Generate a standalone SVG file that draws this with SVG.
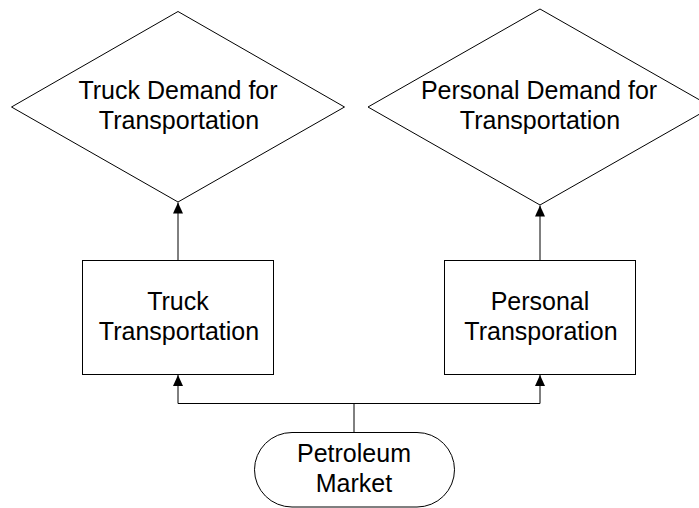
<svg xmlns="http://www.w3.org/2000/svg" width="699" height="508" viewBox="0 0 699 508">
<style>
.shape{fill:#fff;stroke:#000;stroke-width:1}
.conn{fill:none;stroke:#000;stroke-width:1}
text{font-family:"Liberation Sans",Arial,sans-serif;font-size:25px;fill:#000;text-anchor:middle}
</style>
<defs>
<marker id="arr" markerUnits="userSpaceOnUse" markerWidth="12" markerHeight="11" refX="11" refY="5" orient="auto">
<path d="M0,0 L11,5 L0,10 z" fill="#000"/>
</marker>
</defs>
<rect width="699" height="508" fill="#fff"/>
<g id="truck-demand">
<polygon class="shape" points="178,11.5 344.5,107 178,202 11.5,107"/>
<text x="178" y="99">Truck Demand for</text>
<text x="179" y="128.5">Transportation</text>
</g>
<g id="personal-demand">
<polygon class="shape" points="540,9 712,107 540,205 368,107"/>
<text x="539" y="99">Personal Demand for</text>
<text x="540" y="128.5">Transportation</text>
</g>
<g id="truck-transportation">
<rect class="shape" x="82.5" y="260.5" width="191" height="114"/>
<text x="178" y="310">Truck</text>
<text x="179" y="340">Transportation</text>
</g>
<g id="personal-transporation">
<rect class="shape" x="444.5" y="260.5" width="191" height="114"/>
<text x="540" y="310">Personal</text>
<text x="541" y="340">Transporation</text>
</g>
<g id="petroleum-market">
<rect class="shape" x="254.5" y="432.5" width="200" height="74.5" rx="37.5" ry="37.5"/>
<text x="354" y="461.5">Petroleum</text>
<text x="354" y="491.5">Market</text>
</g>
<g id="connectors">
<line class="conn" x1="178" y1="260.5" x2="178" y2="202.5" marker-end="url(#arr)"/>
<line class="conn" x1="540" y1="260.5" x2="540" y2="205.5" marker-end="url(#arr)"/>
<polyline class="conn" points="354,432.5 354,403.5 178,403.5 178,375" marker-end="url(#arr)"/>
<polyline class="conn" points="354,403.5 540,403.5 540,375" marker-end="url(#arr)"/>
</g>
</svg>
